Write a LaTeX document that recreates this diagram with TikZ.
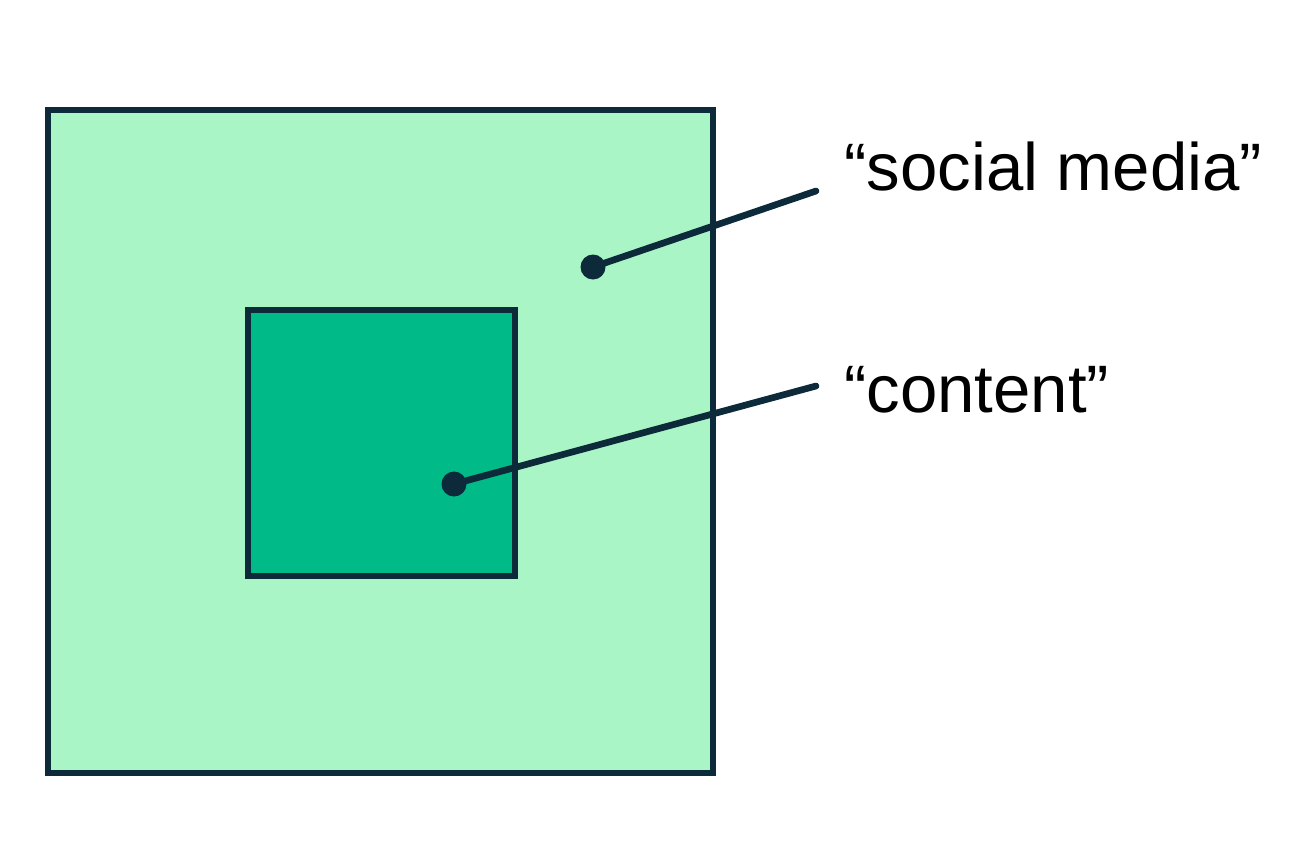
\documentclass[tikz,border=0pt]{standalone}
\usepackage{fontspec}
\setmainfont{Liberation Sans}
\usetikzlibrary{positioning}
\definecolor{navy}{HTML}{0C2A3A}
\definecolor{mint}{HTML}{A9F5C5}
\definecolor{jade}{HTML}{00BB88}
\begin{document}
\begin{tikzpicture}[
  x=0.02cm, y=-0.02cm,
  box/.style={draw=navy, line width=2.9pt},
  pin/.style={circle, fill=navy, minimum size=0.5cm, inner sep=0pt},
  lead/.style={draw=navy, line width=3.8pt, line cap=round},
  label/.style={font=\fontsize{38.2}{45}\selectfont, inner sep=0pt, anchor=base west}
]
  \useasboundingbox (0,0) rectangle (1308,856);

  \filldraw[box, fill=mint] (48,110) rectangle (713,773);
  \filldraw[box, fill=jade] (248,310) rectangle (515,576);

  \node[pin] (dotmedia) at (593,267) {};
  \node[pin] (dotcontent) at (454,484) {};

  \coordinate (endmedia) at (816,191);
  \coordinate (endcontent) at (816,386);

  \node[label] (txtmedia) at (844,190) {“social media”};
  \node[label] (txtcontent) at (844,412) {“content”};

  % leader lines
  \draw[lead] (dotmedia.center) -- (endmedia);
  \draw[lead] (dotcontent.center) -- (endcontent);
\end{tikzpicture}
\end{document}
